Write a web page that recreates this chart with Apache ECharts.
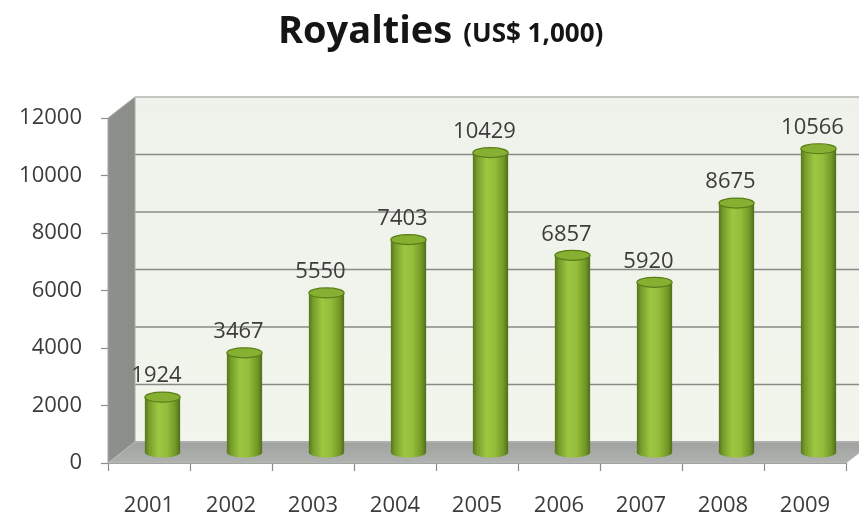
<!DOCTYPE html>
<html>
<head>
<meta charset="utf-8">
<script src="https://cdn.jsdelivr.net/npm/echarts@6/dist/echarts.min.js"></script>
<style>
  html, body { margin: 0; padding: 0; background: #ffffff; }
  #chart { width: 859px; height: 517px; }
</style>
</head>
<body>
<div id="chart"></div>
<script>
// Annual royalties, thousands of US dollars
const years = ['2001', '2002', '2003', '2004', '2005', '2006', '2007', '2008', '2009'];
const royalties = [1924, 3467, 5550, 7403, 10429, 6857, 5920, 8675, 10566];
const yTicks = [0, 2000, 4000, 6000, 8000, 10000, 12000];

// Oblique offset used to fake the 3D depth of the plot box
const DEPTH_X = 27;
const DEPTH_Y = -21;
const FONT = '"Open Sans", "Liberation Sans", sans-serif';

const chart = echarts.init(document.getElementById('chart'), null, { renderer: 'canvas' });

// Back wall, side wall, floor and the gridlines on the back wall
function renderWalls(params, api) {
  const cs = params.coordSys;
  const x0 = cs.x, x1 = cs.x + cs.width;
  const yTop = cs.y, yBot = cs.y + cs.height;
  const children = [];
  // back wall
  children.push({
    type: 'rect',
    shape: { x: x0 + DEPTH_X, y: yTop + DEPTH_Y, width: x1 - x0 + 40, height: yBot - yTop },
    style: {
      fill: new echarts.graphic.LinearGradient(0, 0, 0, 1, [
        { offset: 0, color: '#eef2ea' },
        { offset: 1, color: '#f1f5ec' }
      ])
    }
  });
  // gridlines on the back wall
  yTicks.forEach(function (v) {
    const y = api.coord([0, v])[1] + DEPTH_Y;
    children.push({
      type: 'line',
      shape: { x1: x0 + DEPTH_X, y1: y, x2: x1 + DEPTH_X + 40, y2: y },
      style: { stroke: v === yTicks[yTicks.length - 1] ? '#b4b6b2' : '#878a86', lineWidth: 1.6 }
    });
  });
  // left side wall
  children.push({
    type: 'polygon',
    shape: { points: [[x0, yTop], [x0 + DEPTH_X, yTop + DEPTH_Y], [x0 + DEPTH_X, yBot + DEPTH_Y], [x0, yBot]] },
    style: {
      fill: new echarts.graphic.LinearGradient(0, 0, 1, 0, [
        { offset: 0, color: '#8d908b' },
        { offset: 1, color: '#8a8d88' }
      ]),
      stroke: '#a9aca7', lineWidth: 1
    }
  });
  // floor
  children.push({
    type: 'polygon',
    shape: { points: [[x0, yBot], [x0 + DEPTH_X, yBot + DEPTH_Y], [x1 + DEPTH_X, yBot + DEPTH_Y], [x1, yBot]] },
    style: {
      fill: new echarts.graphic.LinearGradient(0, 0, 0, 1, [
        { offset: 0, color: '#a0a29f' },
        { offset: 1, color: '#b0b2af' }
      ]),
      stroke: '#b9bbb8', lineWidth: 1
    }
  });
  return { type: 'group', children: children, silent: true };
}

// One green cylinder per year, standing half-way into the depth of the box
function renderCylinder(params, api) {
  const i = api.value(0);
  const v = api.value(1);
  const top = api.coord([i, v]);
  const base = api.coord([i, 0]);
  const band = api.size([1, 0])[0];
  const w = band * 0.43;
  const rx = w / 2;
  const ry = 5;
  const cx = top[0] + DEPTH_X / 2;
  const ty = top[1] + DEPTH_Y / 2;
  const by = base[1] + DEPTH_Y / 2;
  const body = new echarts.graphic.LinearGradient(0, 0, 1, 0, [
    { offset: 0, color: '#56761b' },
    { offset: 0.12, color: '#769d2b' },
    { offset: 0.38, color: '#9cc741' },
    { offset: 0.62, color: '#94be3a' },
    { offset: 0.87, color: '#729727' },
    { offset: 1, color: '#506e17' }
  ]);
  return {
    type: 'group',
    children: [
      { type: 'ellipse', shape: { cx: cx, cy: by, rx: rx, ry: ry }, style: { fill: body } },
      { type: 'rect', shape: { x: cx - rx, y: ty, width: w, height: by - ty }, style: { fill: body } },
      {
        type: 'ellipse', shape: { cx: cx, cy: ty, rx: rx, ry: ry },
        style: { fill: '#86b032', stroke: '#5a7d19', lineWidth: 1.2 }
      },
      {
        type: 'text',
        style: {
          text: String(v), x: cx - 6, y: ty - 21,
          align: 'center', verticalAlign: 'middle',
          font: '22px ' + FONT, fill: '#3c3c3c'
        }
      }
    ]
  };
}

chart.setOption({
  animation: false,
  backgroundColor: '#ffffff',
  title: {
    text: '{a|Royalties} {b|(US$ 1,000)}',
    left: 273,
    top: 8,
    textStyle: {
      rich: {
        a: { fontFamily: FONT, fontWeight: 'bold', fontSize: 38, color: '#151515', verticalAlign: 'bottom' },
        b: { fontFamily: FONT, fontWeight: 'bold', fontSize: 26, color: '#151515', verticalAlign: 'bottom', padding: [0, 0, 3, 6] }
      }
    }
  },
  grid: { left: 108, right: 13, top: 118, bottom: 54, containLabel: false },
  xAxis: {
    type: 'category',
    data: years,
    axisLine: { show: true, lineStyle: { color: '#8c8c8c', width: 1.2 } },
    axisTick: { show: true, length: 8, lineStyle: { color: '#8c8c8c', width: 1.2 } },
    axisLabel: { margin: 32, fontFamily: FONT, fontSize: 22, color: '#3c3c3c' },
    splitLine: { show: false }
  },
  yAxis: {
    type: 'value',
    min: 0,
    max: 12000,
    interval: 2000,
    axisLine: { show: true, lineStyle: { color: '#8c8c8c', width: 1.2 } },
    axisTick: { show: true, length: 7, lineStyle: { color: '#8c8c8c', width: 1.2 } },
    axisLabel: {
      margin: 26, fontFamily: FONT, fontSize: 22, color: '#3c3c3c',
      formatter: function (v) { return String(v); }
    },
    splitLine: { show: false }
  },
  series: [
    {
      type: 'custom',
      name: 'walls',
      renderItem: renderWalls,
      data: [[0, 0]],
      z: 1,
      silent: true
    },
    {
      type: 'custom',
      name: 'Royalties',
      renderItem: renderCylinder,
      data: royalties.map(function (v, i) { return [i, v]; }),
      z: 2
    }
  ]
});
</script>
</body>
</html>
